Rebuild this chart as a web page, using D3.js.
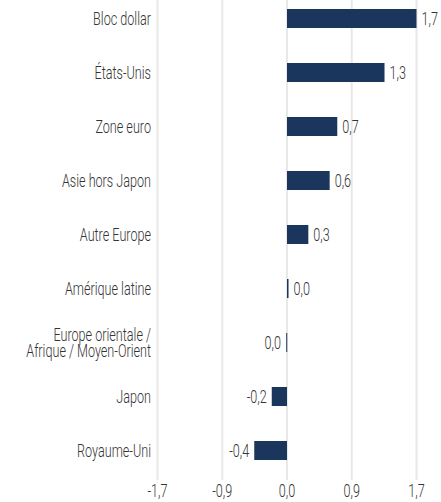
<!DOCTYPE html>
<html>
<head>
<meta charset="utf-8">
<script src="https://cdn.jsdelivr.net/npm/d3@7"></script>
<style>
  body { margin: 0; background: #fff; }
  text { font-family: Roboto, "Liberation Sans", sans-serif; font-weight: 300; fill: #333; }
</style>
</head>
<body>
<div id="chart"></div>
<script>
// régions et contributions
const regions = ["Bloc dollar", "États-Unis", "Zone euro", "Asie hors Japon", "Autre Europe",
  "Amérique latine", "Europe orientale /\nAfrique / Moyen-Orient", "Japon", "Royaume-Uni"];
const values = [1.7, 1.28, 0.66, 0.56, 0.28, 0.02, -0.01, -0.2, -0.43];
const tickValues = [-1.7, -0.85, 0, 0.85, 1.7];
const tickLabels = ["-1,7", "-0,9", "0,0", "0,9", "1,7"];

const width = 441, height = 502;
const squeeze = 0.7; // police étroite simulée

const svg = d3.select("#chart").append("svg")
  .attr("width", width)
  .attr("height", height);

const x = d3.scaleLinear().domain([-1.7, 1.7]).range([157.5, 416.5]);
const y = d3.scaleBand().domain(regions).range([-8.5, 477.5]).paddingInner(0.648).paddingOuter(0.324);

function fmt(v){
  var s = Math.abs(v) < 0.05 ? "0.0" : v.toFixed(1);
  return s.replace(".", ",");
}

function narrow(sel){
  sel.each(function(){
    var w = this.getComputedTextLength();
    d3.select(this).attr("textLength", w * squeeze).attr("lengthAdjust", "spacingAndGlyphs");
  });
}

// grille verticale
svg.append("g").selectAll("line")
  .data(tickValues)
  .enter()
  .append("line")
  .attr("x1", d => x(d)).attr("x2", d => x(d))
  .attr("y1", 0).attr("y2", 480)
  .attr("stroke", "#e8e8e8")
  .attr("stroke-width", 2);

// étiquettes de l'axe
svg.append("g").selectAll("text")
  .data(tickValues)
  .enter()
  .append("text")
  .attr("x", d => x(d))
  .attr("y", 497)
  .attr("text-anchor", "middle")
  .style("font-size", "18px")
  .text((d, i) => tickLabels[i])
  .call(narrow);

// barres
svg.append("g").selectAll("rect")
  .data(values)
  .enter()
  .append("rect")
  .attr("x", d => Math.min(x(0), x(d)))
  .attr("width", d => Math.max(1, Math.abs(x(d) - x(0))))
  .attr("y", (d, i) => y(regions[i]))
  .attr("height", y.bandwidth())
  .attr("fill", "#1b365d");

// valeurs
svg.append("g").selectAll("text")
  .data(values)
  .enter()
  .append("text")
  .attr("x", d => d >= 0 ? Math.max(x(d), x(0) + 1) + 5 : Math.min(x(d), x(0) - 1) - 5)
  .attr("y", (d, i) => y(regions[i]) + y.bandwidth() / 2)
  .attr("dy", "0.36em")
  .attr("text-anchor", d => d >= 0 ? "start" : "end")
  .style("font-size", "18px")
  .text(d => fmt(d))
  .call(narrow);

// libellés des régions
const lab = svg.append("g").selectAll("text")
  .data(regions)
  .enter()
  .append("text")
  .attr("x", 151)
  .attr("y", d => y(d) + y.bandwidth() / 2)
  .attr("text-anchor", "end")
  .style("font-size", "18px");

lab.each(function(d){
  var lines = d.split("\n");
  var t = d3.select(this);
  lines.forEach(function(l, k){
    t.append("tspan")
      .attr("x", 151)
      .attr("dy", k == 0 ? (0.36 - (lines.length - 1) * 0.42) + "em" : "0.84em")
      .text(l);
  });
});
lab.selectAll("tspan").call(narrow);
</script>
</body>
</html>
